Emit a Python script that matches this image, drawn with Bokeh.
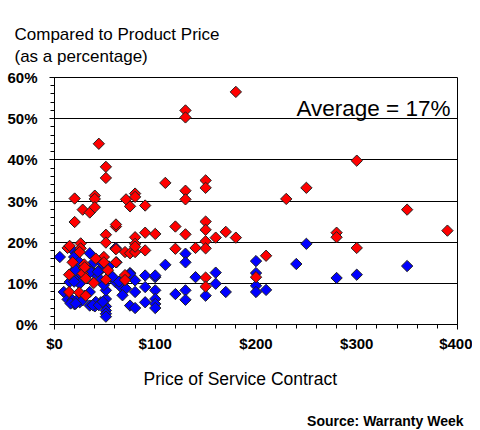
from bokeh.plotting import figure
from bokeh.models import FixedTicker, Label, ColumnDataSource, Range1d, Title
from bokeh.embed import file_html
from bokeh.resources import INLINE
import math

# ---- data (price of service contract in $, cost as % of product price) ----
blue_x = [250, 200, 240, 350, 160, 200, 280, 300, 160, 200, 170, 200, 210, 150,
          5.3, 20, 20, 35, 60.5, 61.5, 110, 130, 130, 20, 25, 35, 40, 46, 56, 60.5,
          65.5, 75, 80, 90, 100, 100, 90, 80, 90, 100, 100, 100, 75, 80, 120, 130,
          130, 140, 9.2, 15, 20, 25, 35, 40, 46, 51, 51, 51, 51, 51, 51, 30, 35, 21,
          25, 15, 23, 19.5, 24.5, 39, 46, 21, 36, 43, 57.6, 64, 19.5, 46, 49, 71,
          13, 18, 23, 28, 16, 21, 41, 38, 44, 48, 67.5, 47, 54, 75, 100, 60.8]
blue_y = [19.6, 15.4, 14.7, 14.2, 12.6, 12.5, 11.3, 12.1, 9.9, 9.4, 7.9, 7.9, 8.4, 7.0,
          16.4, 17.6, 15.5, 17.3, 18.4, 15.1, 14.5, 17.2, 15.1, 13.3, 12.5, 13.5, 12.3, 13.3, 11.9, 10.3,
          9.2, 12.5, 10.7, 11.9, 11.5, 8.3, 9.1, 7.9, 5.4, 6.2, 5.0, 4.0, 4.6, 4.0, 7.4, 8.3,
          6.0, 11.5, 7.9, 6.0, 4.9, 5.4, 4.6, 4.4, 5.4, 4.4, 3.4, 2.6, 1.9, 6.2, 8.3, 7.0, 7.9, 10.7,
          9.9, 10.3, 17.5, 16.4, 15.2, 15.1, 13.6, 13.2, 12.8, 12.8, 11.6, 10.4, 10.4, 10.8, 9.6, 8.7,
          6.1, 5.9, 6.1, 5.9, 5.1, 5.1, 5.5, 4.7, 4.7, 5.5, 7.1, 14.9, 14.1, 12.3, 11.9, 18.6]

red_x = [180, 130, 130, 44, 51, 51, 110, 130, 130, 150, 150, 20, 40, 40, 71, 80, 80,
         300, 250, 230, 350, 150, 150, 170, 160, 180, 150, 150, 280, 280, 390, 300, 210, 200, 150, 150,
         28, 35, 40, 75, 90, 20, 61, 61, 120, 51, 80, 90, 100, 130, 140, 120, 90, 61, 70, 75, 80,
         80, 80, 51, 13, 15, 26, 26, 25, 49, 18, 29.5, 29.5, 41, 49, 61, 53, 14.5, 28, 31, 39,
         51, 70, 70, 14.5, 24.5, 31, 30]
red_y = [56.5, 52.0, 50.3, 43.9, 38.3, 35.6, 34.4, 32.5, 30.4, 35.0, 33.2, 30.6, 31.3, 30.5, 30.4, 31.8, 31.0,
         39.8, 33.2, 30.5, 27.9, 25.0, 23.0, 22.5, 21.1, 21.1, 20.2, 18.5, 22.3, 21.2, 22.8, 18.6, 16.7, 11.5, 11.4, 9.2,
         27.9, 27.2, 28.5, 28.7, 28.9, 24.9, 23.8, 24.3, 23.8, 21.8, 21.2, 22.3, 22.0, 21.9, 18.6, 18.4, 18.0, 18.3, 17.6, 17.3, 17.6,
         19.6, 18.9, 19.9, 18.6, 19.1, 19.7, 18.5, 17.6, 16.4, 15.1, 14.6, 13.6, 16.0, 15.1, 15.1, 13.2, 12.1, 12.4, 11.2, 10.1,
         10.9, 12.0, 10.8, 7.9, 7.8, 7.0, 13.9]

x_ticks = [0, 100, 200, 300, 400]
x_tick_labels = ["$0", "$100", "$200", "$300", "$400"]
y_ticks = [0, 10, 20, 30, 40, 50, 60]
y_tick_labels = ["0%", "10%", "20%", "30%", "40%", "50%", "60%"]

title_line1 = "Compared to Product Price"
title_line2 = "(as a percentage)"
average_text = "Average = 17%"
x_title = "Price of Service Contract"
source_text = "Source: Warranty Week"

FONT = "Liberation Sans"

p = figure(frame_width=403, frame_height=247,
           min_border_left=54, min_border_right=15, min_border_top=77, min_border_bottom=98,
           x_range=Range1d(0, 400), y_range=Range1d(0, 60),
           output_backend="svg", toolbar_location=None,
           background_fill_color="white", border_fill_color="white")

p.outline_line_color = "black"
p.outline_line_width = 1
p.outline_line_alpha = 1

# axes
p.xaxis.ticker = FixedTicker(ticks=x_ticks, minor_ticks=list(range(0, 401, 20)))
p.yaxis.ticker = FixedTicker(ticks=y_ticks, minor_ticks=list(range(0, 61, 2)))
p.xaxis.major_label_overrides = {t: l for t, l in zip(x_ticks, x_tick_labels)}
p.yaxis.major_label_overrides = {t: l for t, l in zip(y_ticks, y_tick_labels)}
for ax in (p.xaxis[0], p.yaxis[0]):
    ax.axis_line_color = "black"
    ax.axis_line_width = 1
    ax.major_tick_line_color = "black"
    ax.minor_tick_line_color = "black"
    ax.major_tick_in = 0
    ax.minor_tick_in = 0
    ax.major_tick_out = 5
    ax.minor_tick_out = 4
    ax.major_label_text_font = FONT
    ax.major_label_text_font_style = "bold"
    ax.major_label_text_font_size = "15px"
    ax.major_label_text_color = "black"
p.yaxis.major_label_standoff = 12
p.xaxis.major_label_standoff = 5

p.xgrid.grid_line_color = None
p.ygrid.grid_line_color = "black"
p.ygrid.grid_line_width = 1
p.ygrid.grid_line_alpha = 1

# points
bsrc = ColumnDataSource(dict(x=blue_x, y=blue_y))
rsrc = ColumnDataSource(dict(x=red_x, y=red_y))
p.scatter("x", "y", source=bsrc, marker="square", size=8, angle=math.pi / 4,
          fill_color="#0000FF", line_color="#202020", line_width=1)
p.scatter("x", "y", source=rsrc, marker="square", size=8, angle=math.pi / 4,
          fill_color="#FF0000", line_color="#202020", line_width=1)

# texts outside the frame as titles
p.add_layout(Title(text=title_line1 + "\n" + title_line2, align="left", offset=-40, standoff=23,
                   text_font=FONT, text_font_size="17px", text_font_style="normal",
                   text_color="black", text_line_height=1.18), "above")
p.add_layout(Title(text=x_title, align="left", offset=89, standoff=24,
                   text_font=FONT, text_font_size="17.5px", text_font_style="normal",
                   text_color="black"), "below")
p.add_layout(Title(text=source_text, align="right", offset=-6, standoff=21,
                   text_font=FONT, text_font_size="14px", text_font_style="bold",
                   text_color="black"), "below")

p.add_layout(Label(x=393, y=52.5, text=average_text, text_font=FONT, text_font_size="22.5px",
                   text_align="right", text_baseline="alphabetic", text_color="black"))

open("out.html", "w").write(file_html(p, INLINE))
